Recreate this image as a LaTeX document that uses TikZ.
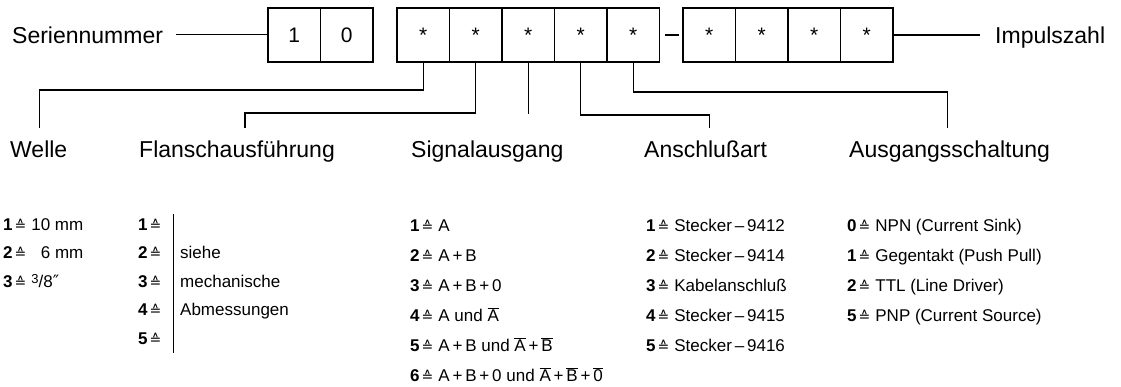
\documentclass[tikz,border=0pt]{standalone}
\usepackage{fontspec}
\setmainfont{Liberation Sans}
\newfontfamily\hatfont{DejaVu Sans}
\usetikzlibrary{positioning}

\newcommand\entspr{{\hatfont\fontsize{14}{14}\selectfont ≙}}
\newcommand\eintrag[2]{\textbf{#1}\hspace{2pt}\entspr\hspace{5pt}#2}
\newcommand\ovl[1]{\ensuremath{\overline{\mbox{#1}}}}

\tikzset{
  cell/.style={draw, line width=1.1pt, minimum width=52.5pt, minimum height=54pt,
    inner sep=0pt, outer sep=0pt, font=\fontsize{21}{21}\selectfont},
  kopf/.style={anchor=base west, inner sep=0pt, font=\fontsize{23}{27}\selectfont},
  titel/.style={kopf, text height=16pt, outer ysep=13pt},
  entry/.style={anchor=base west, inner sep=0pt, text height=13pt, text depth=4pt,
    font=\fontsize{17}{20}\selectfont},
  conn/.style={line width=1.1pt},
}

\begin{document}
\begin{tikzpicture}[x=1pt, y=1pt]
    \useasboundingbox (0,0) rectangle (1121,-386);

    % Kopfzeile
    \node[kopf] (sn) at (12,-43) {Seriennummer};
    \node[cell] (d1) at (294.25,-35) {1};
    \node[cell, right=0pt of d1] (d2) {0};
    \node[cell] (s1) at (423.25,-35) {*};
    \node[cell, right=0pt of s1] (s2) {*};
    \node[cell, right=0pt of s2] (s3) {*};
    \node[cell, right=0pt of s3] (s4) {*};
    \node[cell, right=0pt of s4] (s5) {*};
    \node[cell] (t1) at (709.25,-35) {*};
    \node[cell, right=0pt of t1] (t2) {*};
    \node[cell, right=0pt of t2] (t3) {*};
    \node[cell, right=0pt of t3] (t4) {*};
    \node[kopf] (im) at (995,-43) {Impulszahl};

    \draw[conn, shorten <=13pt] (sn.east) -- (sn.east -| d1.west);
    \draw[conn, shorten <=5pt, shorten >=4pt] (s5.east) -- (t1.west);
    \draw[conn, shorten >=15pt] (t4.east) -- (im.west |- t4.east);

    % Spaltenköpfe
    \node[titel] (wl) at (10,-157) {Welle};
    \node[titel] (fl) at (139,-157) {Flanschausführung};
    \node[titel] (sg) at (411,-157) {Signalausgang};
    \node[titel] (an) at (644,-157) {Anschlußart};
    \node[titel] (au) at (849,-157) {Ausgangsschaltung};

    \draw[conn] (s1.south) -- ++(0,-28) -| ([xshift=1pt]wl.north);
    \draw[conn] (s2.south) -- ++(0,-51) -| ([xshift=8pt]fl.north);
    \draw[conn, shorten >=14pt] (s3.south) -- (s3.south |- sg.north);
    \draw[conn] (s4.south) -- ++(0,-53) -| ([xshift=4pt]an.north);
    \draw[conn] (s5.south) -- ++(0,-30) -| ([xshift=-2pt]au.north);

    % Welle
    \foreach \n/\txt [count=\i] in {1/{10 mm}, 2/{\phantom{1}6 mm},
        3/{\raisebox{4pt}{\fontsize{13}{13}\selectfont 3}/8{\hatfont ″}}}
      \node[entry] (w\i) at (3,{-230-28.5*(\i-1)}) {\eintrag{\n}{\txt}};

    % Flanschausführung
    \foreach \i in {1,...,5}
      \node[entry] (f\i) at (138,{-230-28.5*(\i-1)}) {\eintrag{\i}{}};
    \draw[conn] ([shift={(12pt,3pt)}]f1.north east) -- ([shift={(12pt,-5pt)}]f5.south east);
    \node[entry] (fx2) at (180,-258.5) {siehe};
    \node[entry] (fx3) at (180,-287) {mechanische};
    \node[entry] (fx4) at (180,-315.5) {Abmessungen};

    % Signalausgang
    \foreach \txt [count=\i] in {{A}, {A\,+\,B}, {A\,+\,B\,+\,0}, {A und \ovl{A}},
        {A\,+\,B und \ovl{A}\,+\,\ovl{B}},
        {A\,+\,B\,+\,0 und \ovl{A}\,+\,\ovl{B}\,+\,\ovl{0}}}
      \node[entry] (g\i) at (410,{-231-30*(\i-1)}) {\eintrag{\i}{\txt}};

    % Anschlußart
    \foreach \txt [count=\i] in {{Stecker\,–\,9412}, {Stecker\,–\,9414}, {Kabelanschluß},
        {Stecker\,–\,9415}, {Stecker\,–\,9416}}
      \node[entry] (a\i) at (646,{-231-30*(\i-1)}) {\eintrag{\i}{\txt}};

    % Ausgangsschaltung
    \foreach \n/\txt [count=\i] in {0/{NPN (Current Sink)}, 1/{Gegentakt (Push Pull)},
        2/{TTL (Line Driver)}, 5/{PNP (Current Source)}}
      \node[entry] (o\i) at (847,{-231-30*(\i-1)}) {\eintrag{\n}{\txt}};
\end{tikzpicture}
\end{document}
